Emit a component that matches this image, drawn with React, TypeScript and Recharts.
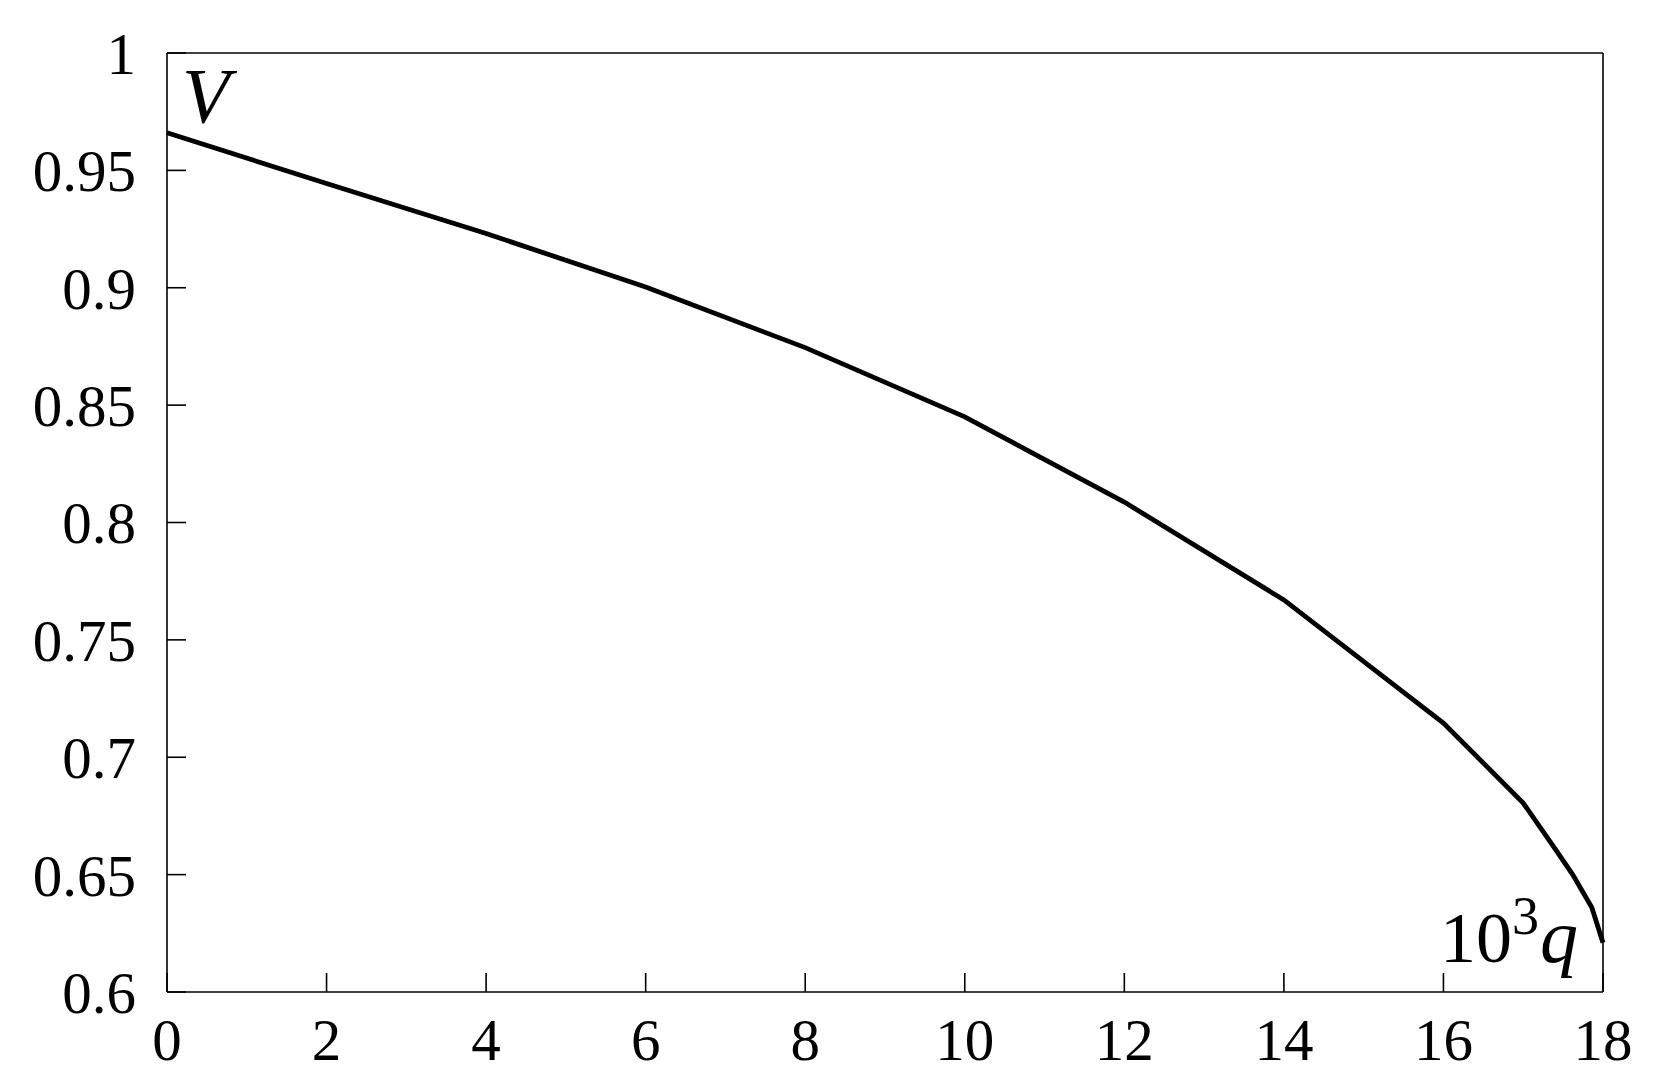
import { Line, LineChart, XAxis, YAxis } from "recharts";

// 10^3 q values and the matching V readings
const qValues = [0, 2, 4, 6, 8, 10, 12, 14, 16, 17, 17.4, 17.62, 17.86, 18];
const vValues = [0.966, 0.9444, 0.9231, 0.9003, 0.8745, 0.845, 0.8087, 0.767, 0.7146, 0.6805, 0.661, 0.65, 0.636, 0.621];

const xTicks = [0, 2, 4, 6, 8, 10, 12, 14, 16, 18];
const yTicks = [0.6, 0.65, 0.7, 0.75, 0.8, 0.85, 0.9, 0.95, 1];

const data = qValues.map((q, i) => ({ q, v: vValues[i] }));

const font = '"Liberation Serif", "Times New Roman", serif';
const tickFont = { fontFamily: font, fontSize: 59, fill: "#000" };
const frame = { stroke: "#000", strokeWidth: 1.6 };

export default function App() {
  return (
    <div style={{ position: "relative", width: 1640, height: 1075 }}>
      <LineChart width={1640} height={1075} data={data} margin={{ top: 0, right: 0, bottom: 0, left: 0 }}>
        <XAxis
          dataKey="q"
          type="number"
          domain={[0, 18]}
          ticks={xTicks}
          height={91}
          tick={tickFont}
          tickSize={-19}
          tickMargin={45}
          axisLine={frame}
          tickLine={frame}
        />
        <XAxis
          xAxisId="top"
          orientation="top"
          dataKey="q"
          type="number"
          domain={[0, 18]}
          ticks={xTicks}
          height={45}
          tick={false}
          tickSize={-19}
          axisLine={frame}
          tickLine={frame}
        />
        <YAxis
          type="number"
          domain={[0.6, 1]}
          ticks={yTicks}
          width={159}
          tick={tickFont}
          tickSize={-19}
          tickMargin={50}
          axisLine={frame}
          tickLine={frame}
        />
        <YAxis
          yAxisId="right"
          orientation="right"
          type="number"
          domain={[0.6, 1]}
          ticks={yTicks}
          width={45}
          tick={false}
          tickSize={-19}
          axisLine={frame}
          tickLine={frame}
        />
        <Line
          type="linear"
          dataKey="v"
          stroke="#000"
          strokeWidth={4.8}
          dot={false}
          activeDot={false}
          isAnimationActive={false}
        />
      </LineChart>
      <svg
        width={1640}
        height={1075}
        style={{ position: "absolute", left: 0, top: 0, pointerEvents: "none" }}
      >
        <text x={174} y={114} fontFamily={font} fontStyle="italic" fontSize={78} fill="#000">
          V
        </text>
        <text x={1432} y={954} fontFamily={font} fontSize={72} fill="#000">
          10
        </text>
        <text x={1504} y={926} fontFamily={font} fontSize={54} fill="#000">
          3
        </text>
        <text x={1532} y={954} fontFamily={font} fontStyle="italic" fontSize={76} fill="#000">
          q
        </text>
      </svg>
    </div>
  );
}
